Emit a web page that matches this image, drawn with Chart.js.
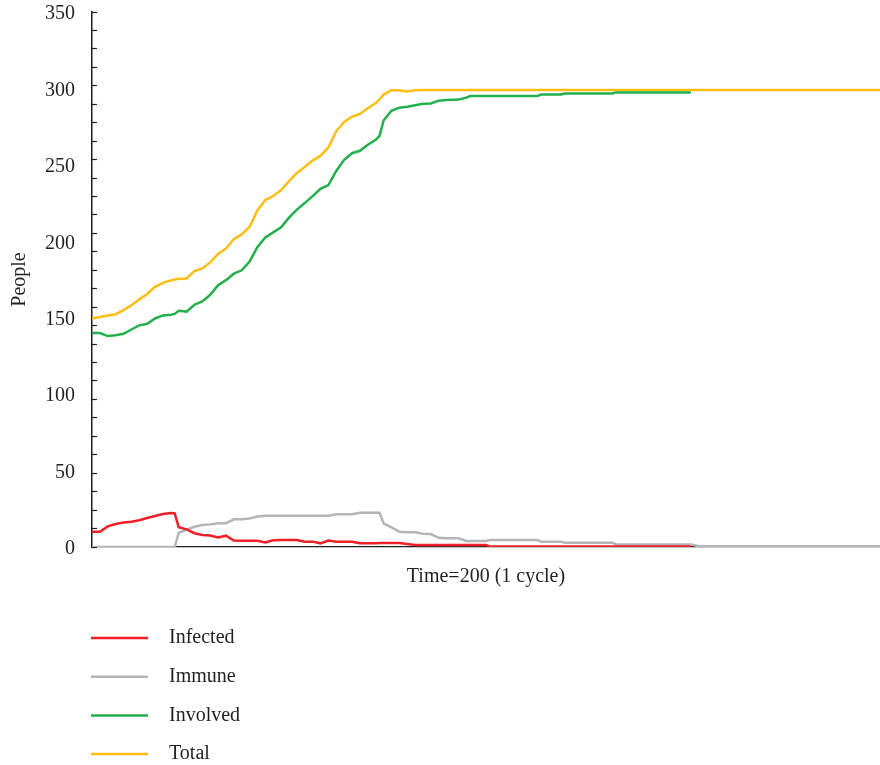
<!DOCTYPE html>
<html>
<head>
<meta charset="utf-8">
<script src="https://cdn.jsdelivr.net/npm/chart.js@4"></script>
<style>
  html, body { margin: 0; padding: 0; background: #fff; }
  #wrap { width: 880px; height: 765px; }
</style>
</head>
<body>
<div id="wrap"><canvas id="peopleChart" width="880" height="765"></canvas></div>
<script>
// time steps (x axis runs 0..200)
const time = [0, 2, 4, 6, 8, 10, 12, 14, 16, 18, 20, 21, 22, 24, 26, 28, 30, 32, 34, 36, 38, 40,
  42, 44, 46, 48, 50, 52, 54, 56, 58, 60, 62, 64, 66, 68, 70, 72, 73, 74, 76, 78, 80, 82, 84,
  86, 88, 90, 93, 95, 96, 100, 101, 110, 113, 114, 119, 120, 132, 133, 152, 154, 200];

const infected = [10, 10, 13.5, 15, 16.1, 16.5, 17.5, 19, 20.3, 21.6, 22.2, 22, 13, 11.5, 9, 7.8, 7.5, 6.3, 7.4, 4.2, 4.1, 4.1,
  4.1, 3, 4.4, 4.6, 4.6, 4.6, 3.5, 3.5, 2.4, 4.2, 3.5, 3.5, 3.4, 2.4, 2.5, 2.5, 2.6, 2.6, 2.6, 2.6, 2, 1.3, 1.3,
  1.3, 1.3, 1.3, 1.3, 1.3, 1.3, 1.3, 0.3, 0.3, 0.3, 0.3, 0.3, 0.3, 0.3, 0.3, 0.3, null, null];

const immune = [0, 0, 0, 0, 0, 0, 0, 0, 0, 0, 0, 0, 9.2, 11.3, 13.2, 14.4, 14.8, 15.5, 15.5, 18.1, 18.1, 18.6,
  20, 20.5, 20.5, 20.5, 20.5, 20.5, 20.5, 20.5, 20.5, 20.5, 21.4, 21.4, 21.4, 22.4, 22.4, 22.4, 22.4, 15.5, 12.8, 10, 9.6, 9.6, 8.7,
  8.5, 6, 5.7, 5.7, 3.9, 3.9, 3.9, 4.6, 4.6, 4.6, 3.5, 3.5, 2.8, 2.8, 1.7, 1.7, 0.5, 0.5];

const involved = [140, 140, 138, 138.5, 139.5, 142.3, 145, 146, 149.5, 151.5, 152, 152.5, 154.5, 154, 158.5, 160.7, 165, 171.3, 174.6, 178.8, 181, 186.8,
  196.3, 202.5, 205.8, 209.2, 215.5, 220.7, 225, 229.5, 234.3, 236.8, 246, 253.3, 257.6, 259.2, 263.2, 266.4, 269, 279, 285.4, 287.4, 288, 289, 290,
  290.2, 292, 292.5, 292.7, 294, 295, 295, 295, 295, 295, 296, 296, 296.7, 296.7, 297.4, 297.4, null, null];

const total = [149.5, 150.5, 151.5, 152.2, 155, 158.2, 162, 165.5, 170.2, 172.8, 174.4, 175, 175.5, 175.7, 180.5, 182.2, 186.2, 191.7, 195.3, 201.3, 204.5, 209.5,
  220.3, 227, 229.6, 233.5, 239.3, 244.7, 248.6, 252.8, 256, 261.4, 272, 278, 281.5, 283.3, 287, 290.5, 292.8, 296, 298.8, 298.8, 298, 298.8, 299,
  299, 299, 299, 299, 299, 299, 299, 299, 299, 299, 299, 299, 299, 299, 299, 299, 299, 299];

const seriesNames = ['Infected', 'Immune', 'Involved', 'Total'];
const seriesColors = ['#ee1f26', '#b4b4b9', '#22b04b', '#fdbe14'];
const seriesValues = [infected, immune, involved, total];

// y axis: labelled every 50, small tick marks split the axis into 29 parts
const yLabels = [0, 50, 100, 150, 200, 250, 300, 350];
const yMax = 350;
const yMarkCount = 29;

const textColor = '#231f20';
const serif = "'Liberation Serif', 'Times New Roman', serif";

const isMark = (v) => {
  const k = v * yMarkCount / yMax;
  return Math.abs(k - Math.round(k)) < 1e-6;
};

// draws the vertical legend under the plot
const legendBelow = {
  id: 'legendBelow',
  afterDraw(chart) {
    const ctx = chart.ctx;
    ctx.save();
    chart.data.datasets.forEach((ds, i) => {
      const y = 638 + i * 38.7;
      ctx.strokeStyle = ds.borderColor;
      ctx.lineWidth = 2.5;
      ctx.beginPath();
      ctx.moveTo(91, y);
      ctx.lineTo(148, y);
      ctx.stroke();
      ctx.fillStyle = textColor;
      ctx.font = '20px ' + serif;
      ctx.textBaseline = 'middle';
      ctx.fillText(ds.label, 169, y);
    });
    ctx.restore();
  }
};

const ctx = document.getElementById('peopleChart').getContext('2d');
new Chart(ctx, {
  type: 'line',
  data: {
    datasets: seriesNames.map((name, s) => ({
      label: name,
      data: time.map((t, i) => ({ x: t, y: seriesValues[s][i] })),
      borderColor: seriesColors[s],
      backgroundColor: seriesColors[s],
      borderWidth: 2.5,
      pointRadius: 0,
      tension: 0,
      fill: false,
      spanGaps: false,
    })),
  },
  options: {
    responsive: false,
    animation: false,
    layout: { padding: { top: 12, right: 0, left: 0, bottom: 0 } },
    plugins: {
      legend: { display: false },
      tooltip: { enabled: false },
    },
    scales: {
      x: {
        type: 'linear',
        min: 0,
        max: 200,
        afterFit: (scale) => { scale.height = 218; },
        ticks: { display: false },
        grid: { display: true, drawOnChartArea: false, drawTicks: false },
        border: { display: true, color: textColor, width: 1.3 },
        title: {
          display: true,
          text: 'Time=200 (1 cycle)',
          color: textColor,
          font: { family: serif, size: 20 },
          padding: { top: 0, bottom: 176 },
        },
      },
      y: {
        min: 0,
        max: yMax,
        afterFit: (scale) => {
          scale.width = 92;
          scale.paddingTop = 0;
          scale.paddingBottom = 0;
        },
        afterBuildTicks: (scale) => {
          const vals = yLabels.slice();
          for (let i = 1; i < yMarkCount; i++) vals.push(i * yMax / yMarkCount);
          vals.sort((a, b) => a - b);
          scale.ticks = vals.map((v) => ({ value: v }));
        },
        ticks: {
          autoSkip: false,
          padding: 22,
          labelOffset: 2,
          color: textColor,
          font: { family: serif, size: 20 },
          callback: (v) => (yLabels.includes(v) ? v : ''),
        },
        grid: {
          drawOnChartArea: false,
          drawTicks: true,
          tickLength: -5,
          tickWidth: 1.2,
          tickColor: (c) => (c.tick && isMark(c.tick.value) ? textColor : 'rgba(0,0,0,0)'),
        },
        border: { display: true, color: textColor, width: 1.5 },
        title: {
          display: true,
          text: 'People',
          color: textColor,
          font: { family: serif, size: 20 },
          padding: { top: 8, bottom: 0 },
        },
      },
    },
  },
  plugins: [legendBelow],
});
</script>
</body>
</html>
